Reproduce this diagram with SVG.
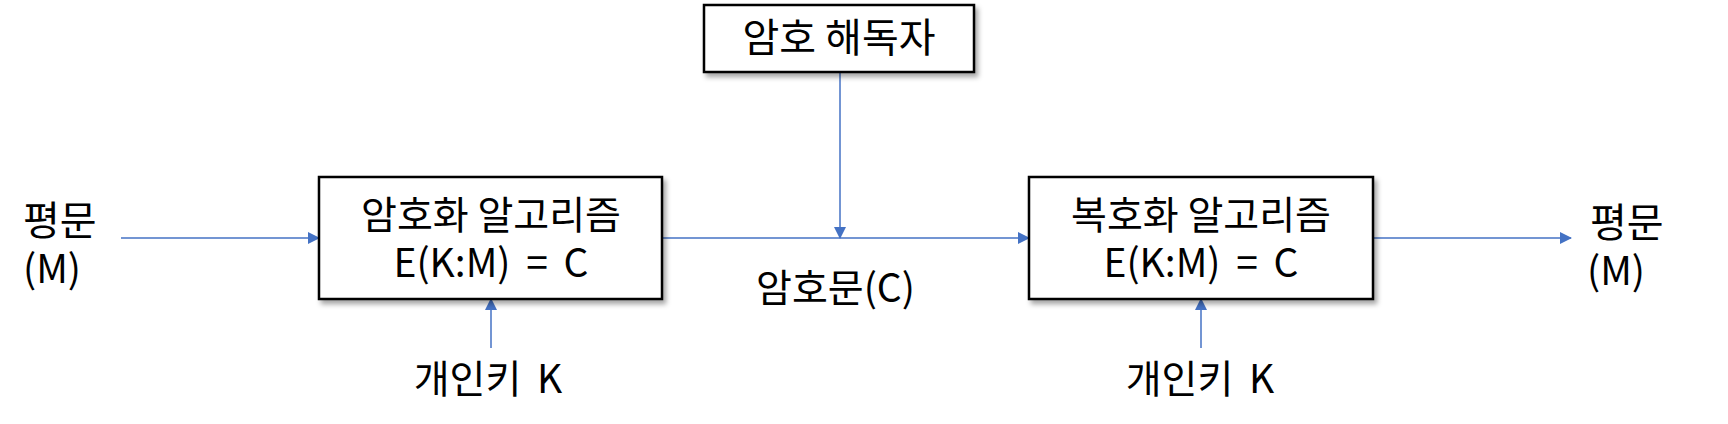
<svg xmlns="http://www.w3.org/2000/svg" width="1728" height="424" viewBox="0 0 1728 424">
<defs>
<filter id="sh" x="-10%" y="-10%" width="130%" height="140%">
<feDropShadow dx="3" dy="4" stdDeviation="2.5" flood-color="#000" flood-opacity="0.35"/>
</filter>
<marker id="ah" markerWidth="12" markerHeight="12" viewBox="0 0 12 12" refX="11" refY="6" orient="auto" markerUnits="userSpaceOnUse">
<path d="M0,0 L12,6 L0,12 z" fill="#4472C4"/>
</marker>
</defs>
<style>
.box{fill:#fff;stroke:#000;stroke-width:2.5;filter:url(#sh)}
.t{font-family:"Noto Sans CJK KR","Noto Sans",sans-serif;font-size:39px;fill:#000}
.c{text-anchor:middle}
.w{word-spacing:7px}
.ln{stroke:#4472C4;stroke-width:1.5;fill:none;marker-end:url(#ah)}
</style>
<rect width="1728" height="424" fill="#fff"/>
<g id="connectors">
<line class="ln" x1="121" y1="238" x2="319" y2="238"/>
<line class="ln" x1="662" y1="238" x2="1029" y2="238"/>
<line class="ln" x1="840" y1="72" x2="840" y2="238"/>
<line class="ln" x1="1373" y1="238" x2="1571" y2="238"/>
<line class="ln" x1="491" y1="348" x2="491" y2="299"/>
<line class="ln" x1="1201" y1="348" x2="1201" y2="299"/>
</g>
<g id="cryptanalyst">
<rect class="box" x="704" y="5" width="270" height="67"/>
<text class="t c" x="839" y="52" style="font-size:40px">암호 해독자</text>
</g>
<g id="encrypt">
<rect class="box" x="319" y="177" width="343" height="122"/>
<text class="t c" x="491" y="229">암호화 알고리즘</text>
<text class="t c w" x="491" y="277">E(K:M) = C</text>
</g>
<g id="decrypt">
<rect class="box" x="1029" y="177" width="344" height="122"/>
<text class="t c" x="1201" y="229">복호화 알고리즘</text>
<text class="t c w" x="1201" y="277">E(K:M) = C</text>
</g>
<g id="plain-in">
<text class="t" x="23" y="235" style="font-size:40px">평문</text>
<text class="t" x="23" y="283">(M)</text>
</g>
<g id="plain-out">
<text class="t" x="1590" y="237" style="font-size:40px">평문</text>
<text class="t" x="1587" y="285">(M)</text>
</g>
<g id="ciphertext">
<text class="t" x="756" y="302">암호문(C)</text>
</g>
<g id="key-enc">
<text class="t c w" x="488" y="393">개인키 K</text>
</g>
<g id="key-dec">
<text class="t c w" x="1200" y="393">개인키 K</text>
</g>
</svg>
